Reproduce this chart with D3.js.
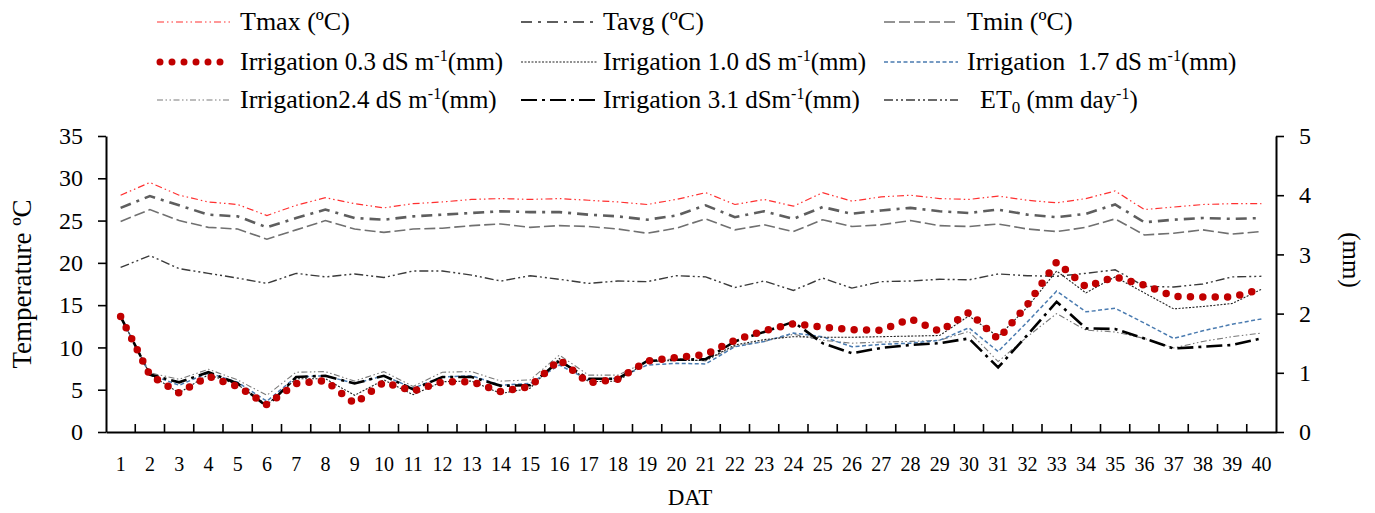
<!DOCTYPE html>
<html>
<head>
<meta charset="utf-8">
<script src="https://cdn.jsdelivr.net/npm/d3@7"></script>
<style>
  body { margin: 0; background: #fff; }
  svg { display: block; font-family: "Liberation Serif", "Times New Roman", serif; }
  .axis path, .axis line { stroke: #000; }
  .axis text { fill: #000; font-family: "Liberation Serif", serif; }
</style>
</head>
<body>
<svg id="svg"></svg>
<script>
  // days after transplanting
  var days = d3.range(1, 41);

  // temperatures (left axis, ºC)
  var tmax = [28.0, 29.5, 28.0, 27.2, 26.9, 25.6, 26.8, 27.7, 27.0, 26.5,
              27.0, 27.2, 27.5, 27.6, 27.5, 27.6, 27.4, 27.2, 26.9, 27.5,
              28.3, 26.9, 27.5, 26.7, 28.3, 27.3, 27.8, 28.0, 27.6, 27.5,
              27.9, 27.4, 27.1, 27.6, 28.5, 26.3, 26.6, 26.9, 27.0, 27.0];
  var tavg = [26.5, 27.9, 26.8, 25.7, 25.5, 24.2, 25.3, 26.3, 25.3, 25.1,
              25.5, 25.7, 25.9, 26.1, 26.0, 26.0, 25.7, 25.5, 25.1, 25.6,
              26.8, 25.4, 26.1, 25.2, 26.6, 25.8, 26.2, 26.5, 26.1, 25.9,
              26.3, 25.7, 25.4, 25.8, 26.9, 24.8, 25.1, 25.3, 25.2, 25.3];
  var tmin = [24.9, 26.3, 25.0, 24.2, 24.0, 22.8, 23.9, 25.0, 24.0, 23.6,
              24.0, 24.1, 24.4, 24.6, 24.2, 24.4, 24.3, 24.0, 23.5, 24.1,
              25.2, 23.9, 24.5, 23.7, 25.1, 24.3, 24.5, 25.0, 24.4, 24.3,
              24.6, 24.0, 23.7, 24.2, 25.2, 23.3, 23.5, 23.9, 23.4, 23.7];

  // irrigation by salinity level and ET0 (right axis, mm)
  var irr03 = [1.95, 0.96, 0.66, 0.94, 0.77, 0.46, 0.82, 0.87, 0.48, 0.84,
               0.69, 0.85, 0.85, 0.68, 0.77, 1.22, 0.83, 0.89, 1.20, 1.26,
               1.31, 1.55, 1.71, 1.83, 1.77, 1.73, 1.72, 1.91, 1.70, 2.02,
               1.57, 2.15, 2.87, 2.45, 2.62, 2.48, 2.29, 2.28, 2.28, 2.41];
  var irr10 = [1.95, 0.97, 0.66, 0.97, 0.80, 0.46, 0.90, 0.90, 0.62, 0.88,
               0.63, 0.85, 0.86, 0.65, 0.74, 1.24, 0.85, 0.86, 1.19, 1.21,
               1.21, 1.47, 1.56, 1.61, 1.60, 1.60, 1.61, 1.62, 1.63, 1.96,
               1.61, 2.11, 2.72, 2.35, 2.62, 2.35, 2.08, 2.12, 2.17, 2.41];
  var irr17 = [1.95, 0.97, 0.79, 1.00, 0.84, 0.52, 0.93, 0.95, 0.82, 0.95,
               0.74, 0.93, 0.95, 0.79, 0.82, 1.13, 0.88, 0.91, 1.13, 1.16,
               1.15, 1.44, 1.53, 1.67, 1.61, 1.44, 1.48, 1.50, 1.55, 1.76,
               1.36, 1.86, 2.38, 2.03, 2.09, 1.84, 1.58, 1.71, 1.82, 1.91];
  var irr24 = [1.95, 1.00, 0.89, 1.06, 0.88, 0.62, 1.01, 1.02, 0.86, 1.02,
               0.77, 1.01, 1.02, 0.86, 0.88, 1.30, 0.96, 0.96, 1.19, 1.24,
               1.20, 1.45, 1.53, 1.65, 1.55, 1.50, 1.52, 1.53, 1.55, 1.70,
               1.19, 1.61, 2.00, 1.72, 1.69, 1.58, 1.42, 1.53, 1.61, 1.67];
  var irr31 = [1.95, 0.97, 0.84, 1.01, 0.82, 0.43, 0.93, 0.95, 0.82, 0.95,
               0.72, 0.93, 0.93, 0.78, 0.79, 1.20, 0.90, 0.90, 1.20, 1.22,
               1.23, 1.53, 1.69, 1.86, 1.50, 1.33, 1.42, 1.47, 1.50, 1.58,
               1.09, 1.64, 2.20, 1.75, 1.74, 1.58, 1.41, 1.44, 1.47, 1.58];
  var et0 = [2.78, 2.98, 2.76, 2.68, 2.60, 2.51, 2.68, 2.62, 2.67, 2.61,
             2.72, 2.72, 2.65, 2.55, 2.64, 2.58, 2.51, 2.55, 2.54, 2.64,
             2.62, 2.44, 2.55, 2.39, 2.60, 2.43, 2.54, 2.55, 2.58, 2.57,
             2.67, 2.64, 2.63, 2.68, 2.74, 2.46, 2.45, 2.50, 2.62, 2.63];

  var tTicks = [0, 5, 10, 15, 20, 25, 30, 35];
  var mmTicks = [0, 1, 2, 3, 4, 5];

  var width = 1375, height = 513;
  var plotL = 106, plotR = 1276, plotT = 136, plotB = 432;

  var svg = d3.select("#svg").attr("width", width).attr("height", height);

  var x = d3.scaleBand().domain(days).range([plotL, plotR]).padding(0);
  var yT = d3.scaleLinear().domain([0, 35]).range([plotB, plotT]);
  var yM = d3.scaleLinear().domain([0, 5]).range([plotB, plotT]);
  var cx = d => x(d) + x.bandwidth() / 2;

  // series styles (drawn in this order)
  var series = [
    {name: "et0",  data: et0,  y: yM, color: "#3a3a3a", w: 1.4, dash: "9,3,2,3,2,3"},
    {name: "tmin", data: tmin, y: yT, color: "#707070", w: 1.6, dash: "11,4"},
    {name: "tavg", data: tavg, y: yT, color: "#5e5e5e", w: 2.6, dash: "11,6,3,6"},
    {name: "tmax", data: tmax, y: yT, color: "#ff3030", w: 1.2, dash: "7,3,1.5,3,1.5,3"},
    {name: "irr24", data: irr24, y: yM, color: "#7a7a7a", w: 1.1, dash: "6,2.5,1.5,2.5,1.5,2.5"},
    {name: "irr17", data: irr17, y: yM, color: "#4a7bb0", w: 1.5, dash: "4,2.5"},
    {name: "irr10", data: irr10, y: yM, color: "#222", w: 1.1, dash: "2,1.5"},
    {name: "irr31", data: irr31, y: yM, color: "#000", w: 2.6, dash: "16,5,3,5"},
    {name: "irr03", data: irr03, y: yM, color: "#c00000", w: 7.5, dash: "0,12.4", cap: "round"}
  ];

  series.forEach(function(s) {
    var line = d3.line().x((d, i) => cx(days[i])).y(d => s.y(d));
    svg.append("path")
      .attr("class", "series " + s.name)
      .attr("d", line(s.data))
      .attr("fill", "none")
      .attr("stroke", s.color)
      .attr("stroke-width", s.w)
      .attr("stroke-dasharray", s.dash)
      .attr("stroke-linecap", s.cap || "butt");
  });

  // left axis
  var gL = svg.append("g").attr("class", "axis")
    .attr("transform", "translate(" + plotL + ",0)")
    .call(d3.axisLeft(yT).tickValues(tTicks).tickSizeInner(8).tickSizeOuter(0).tickPadding(15));
  gL.select(".domain").attr("stroke-width", 2);
  gL.selectAll(".tick line").attr("stroke-width", 1.6);
  gL.selectAll("text").style("font-size", "24px");

  // right axis
  var gR = svg.append("g").attr("class", "axis")
    .attr("transform", "translate(" + plotR + ",0)")
    .call(d3.axisRight(yM).tickValues(mmTicks).tickFormat(d3.format("d"))
      .tickSizeInner(8).tickSizeOuter(0).tickPadding(15));
  gR.select(".domain").attr("stroke-width", 2);
  gR.selectAll(".tick line").attr("stroke-width", 1.6);
  gR.selectAll("text").style("font-size", "24px");

  // bottom axis: labels centred in bands, ticks on band boundaries
  var gB = svg.append("g").attr("class", "axis")
    .attr("transform", "translate(0," + plotB + ")")
    .call(d3.axisBottom(x).tickSize(0).tickPadding(25));
  gB.select(".domain").attr("stroke-width", 2.2);
  gB.selectAll("text").style("font-size", "20px");
  gB.selectAll(".boundary").data(days.slice(1)).enter().append("line")
    .attr("x1", d => x(d)).attr("x2", d => x(d))
    .attr("y1", 0).attr("y2", -8)
    .attr("stroke", "#000").attr("stroke-width", 1.6);

  // axis titles
  svg.append("text")
    .attr("transform", "translate(31,284) rotate(-90)")
    .attr("text-anchor", "middle")
    .style("font-size", "27px")
    .text("Temperature ºC");
  svg.append("text")
    .attr("transform", "translate(1343,260) rotate(90)")
    .attr("text-anchor", "middle")
    .style("font-size", "25px")
    .text("(mm)");
  svg.append("text")
    .attr("x", 690).attr("y", 505)
    .attr("text-anchor", "middle")
    .style("font-size", "23px")
    .text("DAT");

  // legend
  var colX = [[157, 230, 240], [521, 597, 603], [884, 958, 967]];
  var rowY = [22, 62, 100];
  var legend = [
    {s: "tmax", r: 0, c: 0, parts: [["Tmax (ºC)"]]},
    {s: "tavg", r: 0, c: 1, parts: [["Tavg (ºC)"]]},
    {s: "tmin", r: 0, c: 2, parts: [["Tmin (ºC)"]]},
    {s: "irr03", r: 1, c: 0, parts: [["Irrigation "], ["0.3 dS m", 25], ["-1", 16, "sup"], ["(mm)", 25]]},
    {s: "irr10", r: 1, c: 1, parts: [["Irrigation "], ["1.0 dS m", 25], ["-1", 16, "sup"], ["(mm)", 25]]},
    {s: "irr17", r: 1, c: 2, parts: [["Irrigation "], [" 1.7 dS m", 25], ["-1", 16, "sup"], ["(mm)", 25]]},
    {s: "irr24", r: 2, c: 0, parts: [["Irrigation"], ["2.4 dS m", 25], ["-1", 16, "sup"], ["(mm)", 25]]},
    {s: "irr31", r: 2, c: 1, parts: [["Irrigation "], ["3.1 dSm", 25], ["-1", 16, "sup"], ["(mm)", 25]]},
    {s: "et0", r: 2, c: 2, parts: [["  ET"], ["0", 17, "sub"], [" (mm day", 25], ["-1", 16, "sup"], [")", 25]]}
  ];

  legend.forEach(function(e) {
    var st = series.find(s => s.name === e.s);
    var cx0 = colX[e.c], yy = rowY[e.r];
    svg.append("line")
      .attr("x1", cx0[0] + (st.cap ? 3 : 0)).attr("x2", cx0[1])
      .attr("y1", yy).attr("y2", yy)
      .attr("stroke", st.color)
      .attr("stroke-width", st.cap ? 7 : Math.min(st.w, 2.2))
      .attr("stroke-dasharray", st.cap ? "0,12" : st.dash)
      .attr("stroke-linecap", st.cap || "butt");
    var t = svg.append("text")
      .attr("x", cx0[2]).attr("y", yy + 8)
      .style("font-size", "26px")
      .attr("xml:space", "preserve")
      .style("white-space", "pre");
    var shift = 0;
    e.parts.forEach(function(p) {
      var dy = 0;
      if (p[2] === "sup") dy = -9;
      else if (p[2] === "sub") dy = 5;
      var ts = t.append("tspan").attr("dy", dy - shift).text(p[0]);
      if (p[1]) ts.style("font-size", p[1] + "px");
      shift = dy;
    });
  });
</script>
</body>
</html>
